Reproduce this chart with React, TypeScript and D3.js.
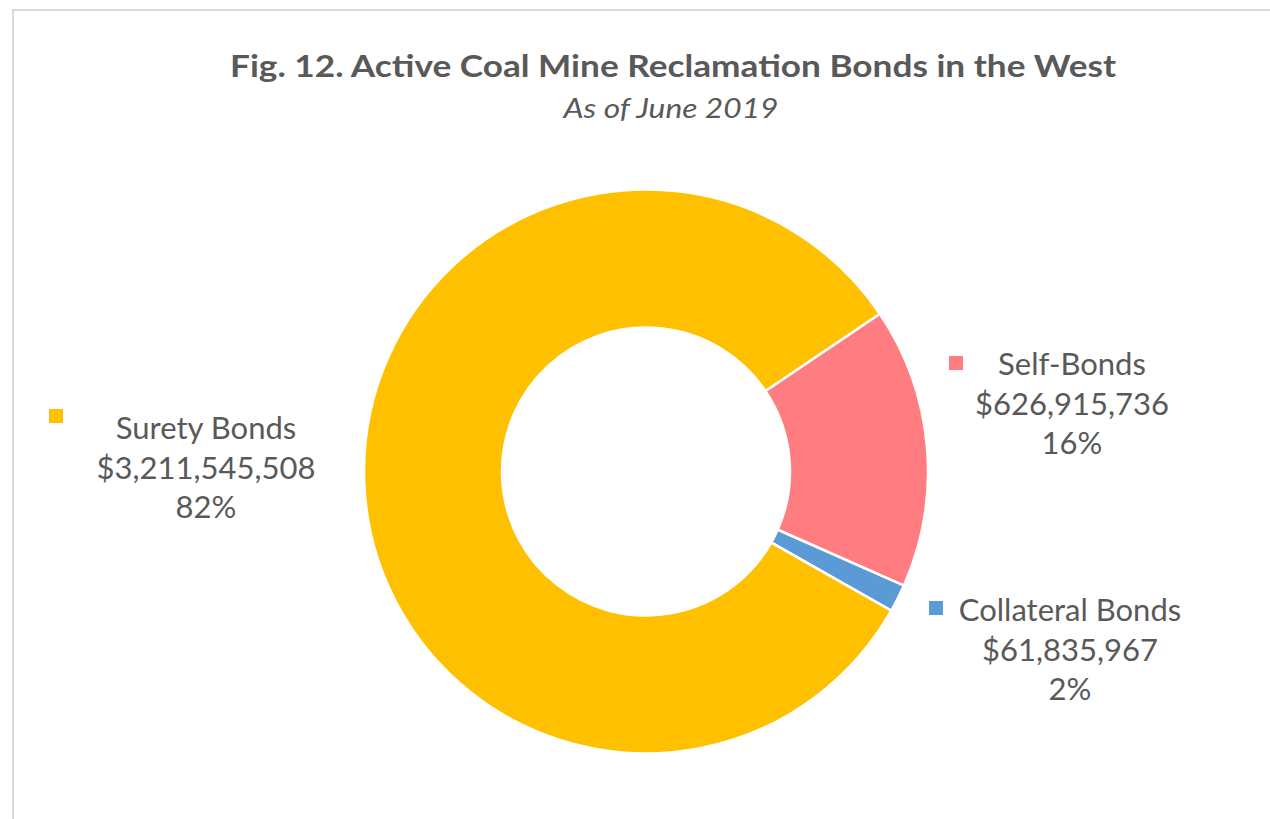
import React from "react";
import * as d3 from "d3";

const categories = ["Self-Bonds", "Collateral Bonds", "Surety Bonds"];
const values = [626915736, 61835967, 3211545508];
const percentLabels = ["16%", "2%", "82%"];
const colors = ["#FF7C80", "#5B9BD5", "#FFC000"];
const title = "Fig. 12. Active Coal Mine Reclamation Bonds in the West";
const subtitle = "As of June 2019";

const W = 1270;
const H = 819;
const cx = 646;
const cy = 471.5;
const outerR = 282;
const innerR = 144;
const startDeg = 56;

const labelPos: Record<string, { x: number; y: number; mx: number; my: number }> = {
  "Self-Bonds": { x: 1072, y: 375, mx: 949, my: 356 },
  "Collateral Bonds": { x: 1070, y: 621, mx: 929, my: 601 },
  "Surety Bonds": { x: 206, y: 439, mx: 49, my: 409 },
};

const fmt = d3.format("$,");
const FONT = "Lato, 'Open Sans', sans-serif";
const TXT = "#595959";

export default function App() {
  const data = categories.map((c, i) => ({ name: c, value: values[i], pct: percentLabels[i], color: colors[i] }));
  const start = (startDeg * Math.PI) / 180;
  const pie = d3
    .pie<any>()
    .sort(null)
    .value((d) => d.value)
    .startAngle(start)
    .endAngle(start + 2 * Math.PI);
  const arcs = pie(data);
  const arc = d3.arc<any>().innerRadius(innerR).outerRadius(outerR);
  const lineH = 39.5;

  return (
    <div style={{ position: "absolute", left: 0, top: 0, width: W, height: H, background: "#fff" }}>
      <svg width={W} height={H} style={{ display: "block" }}>
        <rect x={0} y={0} width={W} height={H} fill="#ffffff" />
        <line x1={12} y1={10} x2={W} y2={10} stroke="#d9d9d9" strokeWidth={2} />
        <line x1={13} y1={10} x2={13} y2={H} stroke="#d9d9d9" strokeWidth={2} />
        <text
          x={673}
          y={77}
          textAnchor="middle"
          fontFamily={FONT}
          fontWeight="bold"
          fontSize={30}
          fill={TXT}
          textLength={886}
          lengthAdjust="spacingAndGlyphs"
        >
          {title}
        </text>
        <text
          x={671}
          y={118}
          textAnchor="middle"
          fontFamily={FONT}
          fontStyle="italic"
          fontSize={27}
          fill={TXT}
          textLength={215}
          lengthAdjust="spacingAndGlyphs"
        >
          {subtitle}
        </text>
        <g transform={`translate(${cx},${cy})`}>
          {arcs.map((a, i) => (
            <path key={i} d={arc(a) as string} fill={a.data.color} stroke="#ffffff" strokeWidth={2.5} />
          ))}
        </g>
        {data.map((d) => {
          const p = labelPos[d.name];
          return (
            <g key={d.name}>
              <rect x={p.mx} y={p.my} width={14} height={14} fill={d.color} />
              <text textAnchor="middle" fontFamily={FONT} fontSize={31} fill={TXT}>
                <tspan x={p.x} y={p.y}>{d.name}</tspan>
                <tspan x={p.x} y={p.y + lineH}>{fmt(d.value)}</tspan>
                <tspan x={p.x} y={p.y + lineH * 2}>{d.pct}</tspan>
              </text>
            </g>
          );
        })}
      </svg>
    </div>
  );
}
